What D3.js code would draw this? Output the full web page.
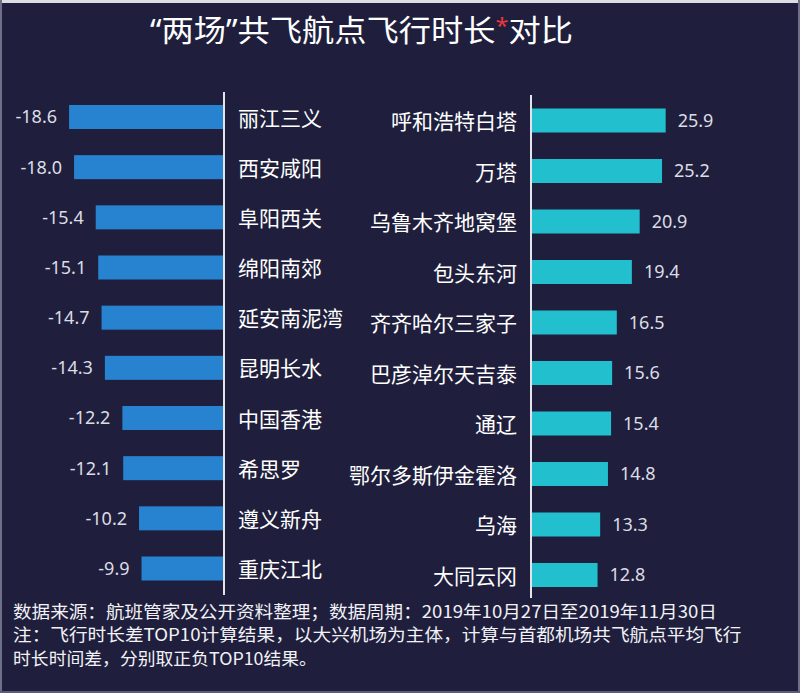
<!DOCTYPE html>
<html lang="zh">
<head>
<meta charset="UTF-8">
<title>两场共飞航点飞行时长对比</title>
<script src="https://d3js.org/d3.v7.min.js"></script>
<style>
  html, body { margin: 0; padding: 0; background: #1f1f3d; }
  svg { display: block; }
  text { font-family: "Noto Sans CJK SC", "Noto Sans", sans-serif; }
  .num { font-family: "Noto Sans", "DejaVu Sans", sans-serif; }
</style>
</head>
<body>
<svg id="chart" width="800" height="693"></svg>
<script>
// 大兴机场较首都机场飞行时长更短的航点（分钟）
const leftNames = ["丽江三义", "西安咸阳", "阜阳西关", "绵阳南郊", "延安南泥湾",
                   "昆明长水", "中国香港", "希思罗", "遵义新舟", "重庆江北"];
const leftValues = [-18.6, -18.0, -15.4, -15.1, -14.7, -14.3, -12.2, -12.1, -10.2, -9.9];

// 飞行时长更长的航点
const rightNames = ["呼和浩特白塔", "万塔", "乌鲁木齐地窝堡", "包头东河", "齐齐哈尔三家子",
                    "巴彦淖尔天吉泰", "通辽", "鄂尔多斯伊金霍洛", "乌海", "大同云冈"];
const rightValues = [25.9, 25.2, 20.9, 19.4, 16.5, 15.6, 15.4, 14.8, 13.3, 12.8];

const footLines = [
  "数据来源：航班管家及公开资料整理；数据周期：2019年10月27日至2019年11月30日",
  "注：飞行时长差TOP10计算结果，以大兴机场为主体，计算与首都机场共飞航点平均飞行",
  "时长时间差，分别取正负TOP10结果。"
];

const W = 800, H = 693;
const svg = d3.select("#chart");

// background + thin photo frame
svg.append("rect").attr("width", W).attr("height", H).attr("fill", "#1f1f3d");
svg.append("rect").attr("width", W).attr("height", 3).attr("fill", "#dcdce4");
svg.append("rect").attr("width", 2).attr("height", H).attr("fill", "#6e6e86");
svg.append("rect").attr("x", W - 2).attr("width", 2).attr("height", H).attr("fill", "#6e6e86");
svg.append("rect").attr("y", H - 2).attr("width", W).attr("height", 2).attr("fill", "#5c5c74");

// stretch a text node horizontally to a given width
function fitWidth(g, target) {
  const bw = g.node().getBBox().width;
  g.attr("transform", g.attr("data-t") + ` scale(${target / bw},1)`);
}

// title (latin quotes keep them narrow, like the original)
const title = svg.append("text")
  .attr("x", 0).attr("y", 0)
  .attr("font-size", 30)
  .attr("fill", "#ffffff");
title.append("tspan").attr("font-family", "Noto Sans").text("“");
title.append("tspan").text("两场");
title.append("tspan").attr("font-family", "Noto Sans").text("”");
title.append("tspan").text("共飞航点飞行时长");
title.append("tspan").text("*")
  .attr("font-family", "Noto Sans")
  .attr("fill", "#e8383a").attr("font-size", 22).attr("dy", -8);
title.append("tspan").text("对比").attr("dy", 8);
title.attr("data-t", "translate(150,41)");
fitWidth(title, 423);

const barH = 24;

// ---- left panel (negative values)
const xL = d3.scaleLinear().domain([0, -20]).range([224, 57.4]);
const yL = d3.scalePoint().domain(leftNames).range([117, 568.5]);

svg.append("g").selectAll("rect")
  .data(leftNames)
  .join("rect")
  .attr("x", (d, i) => xL(leftValues[i]))
  .attr("y", d => yL(d) - barH / 2)
  .attr("width", (d, i) => xL(0) - xL(leftValues[i]))
  .attr("height", barH)
  .attr("fill", "#2783d0");

svg.append("g").selectAll("text")
  .data(leftNames)
  .join("text")
  .attr("class", "num")
  .attr("x", (d, i) => xL(leftValues[i]) - 12)
  .attr("y", d => yL(d))
  .attr("dy", "0.36em")
  .attr("text-anchor", "end")
  .attr("font-size", 18)
  .attr("fill", "#dcdce4")
  .text((d, i) => leftValues[i].toFixed(1));

svg.append("g").selectAll("text")
  .data(leftNames)
  .join("text")
  .attr("x", xL(0) + 14)
  .attr("y", d => yL(d) + 1)
  .attr("dy", "0.36em")
  .attr("font-size", 21)
  .attr("fill", "#ffffff")
  .text(d => d);

svg.append("line")
  .attr("x1", xL(0)).attr("x2", xL(0))
  .attr("y1", 92).attr("y2", 595)
  .attr("stroke", "#e4e4ec").attr("stroke-width", 2);

// ---- right panel (positive values)
const xR = d3.scaleLinear().domain([0, 26]).range([531, 666.2]);
const yR = d3.scalePoint().domain(rightNames).range([120.5, 575]);

svg.append("g").selectAll("rect")
  .data(rightNames)
  .join("rect")
  .attr("x", xR(0))
  .attr("y", d => yR(d) - barH / 2)
  .attr("width", (d, i) => xR(rightValues[i]) - xR(0))
  .attr("height", barH)
  .attr("fill", "#22bfcf");

svg.append("g").selectAll("text")
  .data(rightNames)
  .join("text")
  .attr("class", "num")
  .attr("x", (d, i) => xR(rightValues[i]) + 12)
  .attr("y", d => yR(d))
  .attr("dy", "0.36em")
  .attr("font-size", 18)
  .attr("fill", "#dcdce4")
  .text((d, i) => rightValues[i].toFixed(1));

svg.append("g").selectAll("text")
  .data(rightNames)
  .join("text")
  .attr("x", xR(0) - 14)
  .attr("y", d => yR(d) + 1)
  .attr("dy", "0.36em")
  .attr("text-anchor", "end")
  .attr("font-size", 21)
  .attr("fill", "#ffffff")
  .text(d => d);

svg.append("line")
  .attr("x1", xR(0)).attr("x2", xR(0))
  .attr("y1", 95).attr("y2", 598)
  .attr("stroke", "#e4e4ec").attr("stroke-width", 2);

// ---- footer notes
const footY = [618, 641, 665];
const footW = [704, 729, 304];
footLines.forEach((line, i) => {
  const t = svg.append("text")
    .attr("x", 0).attr("y", 0)
    .attr("font-size", 17.5)
    .attr("fill", "#f2f2f6")
    .text(line);
  t.attr("data-t", `translate(13,${footY[i]})`);
  fitWidth(t, footW[i]);
});
</script>
</body>
</html>
